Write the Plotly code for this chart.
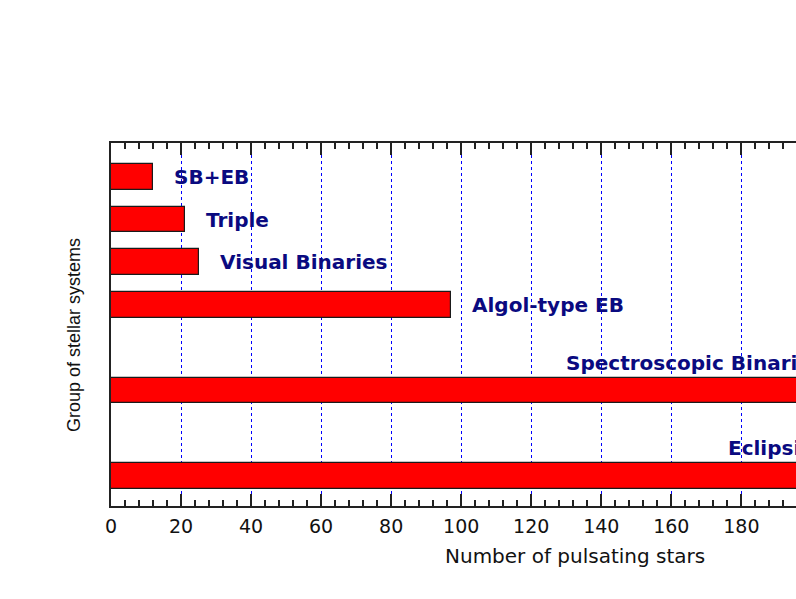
import plotly.graph_objects as go

# ---- data ----
categories = ["Eclipsing Binaries", "Spectroscopic Binaries", "Algol-type EB",
              "Visual Binaries", "Triple", "SB+EB"]
slots = [1, 3, 5, 6, 7, 8]          # vertical category slots
counts = [234, 204, 97, 25, 21, 12]  # number of pulsating stars
label_side = ["above", "above", "right", "right", "right", "right"]
x_ticks = [0, 20, 40, 60, 80, 100, 120, 140, 160, 180, 200, 220, 240, 260]

W, H = 796, 599
L, T, B = 111, 143, 93
px_per_unit = 3.502
x_max = (W - L) / px_per_unit

fig = go.Figure()
fig.add_trace(go.Bar(
    x=counts, y=slots, orientation="h", width=0.6,
    marker=dict(color="#ff0000", line=dict(color="#1a1a1a", width=1.2)),
    hoverinfo="x+text", text=categories, textposition="none",
))

navy = "#0a0a80"
lab_font = dict(family="DejaVu Sans", size=20, color=navy, weight="bold")
for name, s, v, side in zip(categories, slots, counts, label_side):
    if side == "right":
        fig.add_annotation(xref="paper", x=v / x_max, y=s, text=name,
                           showarrow=False, xanchor="left", yanchor="middle",
                           xshift=19, font=lab_font)
    else:
        fig.add_annotation(xref="paper", x=v / x_max, y=s, text=name,
                           showarrow=False, xanchor="right", yanchor="middle",
                           yshift=28, font=lab_font)

fig.add_annotation(xref="paper", yref="paper",
                   x=(575 - L) / (W - L), y=-(556 - (H - B)) / (H - B - T),
                   text="Number of pulsating stars", showarrow=False,
                   xanchor="center", yanchor="middle",
                   font=dict(family="DejaVu Sans", size=20, color="#111111"))
fig.add_annotation(xref="paper", yref="paper",
                   x=-(L - 74) / (W - L), y=((H - B) - 335) / (H - B - T),
                   text="Group of stellar systems", showarrow=False,
                   textangle=-90, xanchor="center", yanchor="middle",
                   font=dict(family="Liberation Sans Narrow, Liberation Sans",
                             size=18, color="#111111"))

fig.update_layout(
    width=W, height=H,
    margin=dict(l=L, r=0, t=T, b=B, pad=0),
    plot_bgcolor="white", paper_bgcolor="white",
    showlegend=False, bargap=0,
    xaxis=dict(
        range=[0, x_max], tickvals=x_ticks, ticks="inside", ticklen=12,
        tickwidth=2, tickcolor="#222222",
        showline=True, linewidth=2, linecolor="#222222", mirror="ticks",
        showgrid=True, gridcolor="#0000ff", gridwidth=1, griddash="dot",
        zeroline=False,
        minor=dict(dtick=4, ticks="inside", ticklen=6, tickwidth=2,
                   tickcolor="#222222", showgrid=False),
        tickfont=dict(family="DejaVu Sans", size=19, color="#111111"),
        ticklabelstandoff=2,
    ),
    yaxis=dict(
        range=[0.3, 8.79], showticklabels=False, ticks="",
        showline=True, linewidth=2, linecolor="#222222", mirror=False,
        showgrid=False, zeroline=False,
    ),
)

fig.write_html("out.html", config={"displayModeBar": False},
               post_script="document.body.style.margin='0';"
                           "document.body.style.overflow='hidden';")
